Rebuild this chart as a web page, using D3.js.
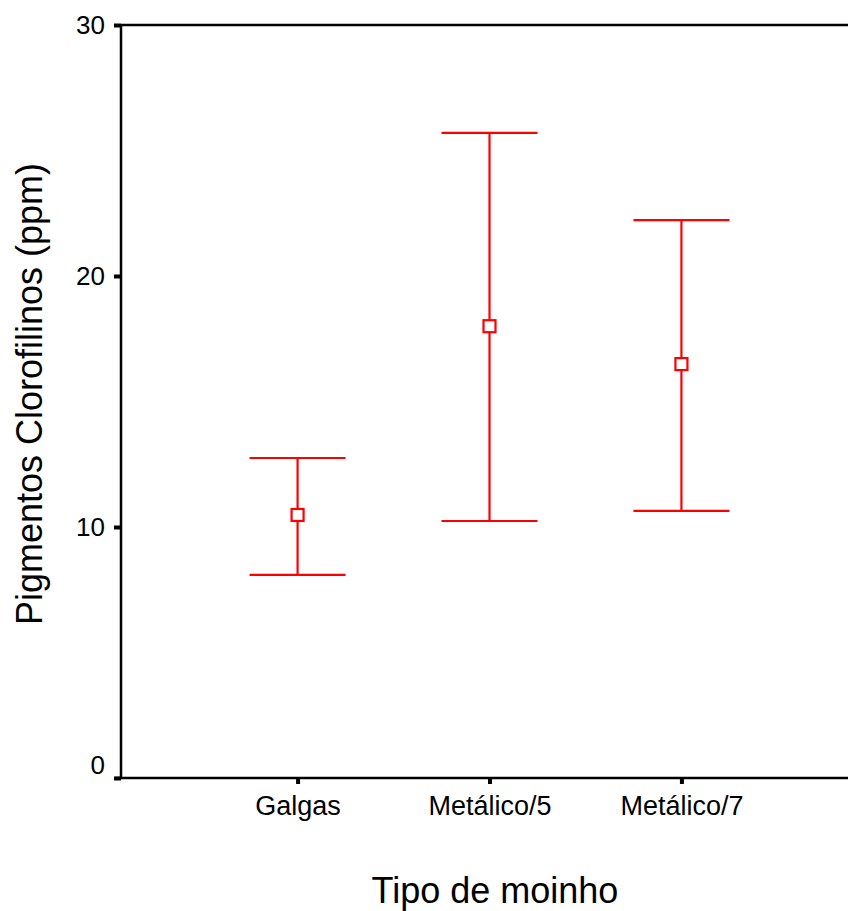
<!DOCTYPE html>
<html>
<head>
<meta charset="utf-8">
<script src="https://cdn.jsdelivr.net/npm/d3@7"></script>
<style>
  body { margin: 0; background: #fff; }
  text { font-family: "Liberation Sans", Arial, sans-serif; }
</style>
</head>
<body>
<svg width="848" height="911"></svg>
<script>
// error bar chart: mean and interval per mill type
var categories = ["Galgas", "Metálico/5", "Metálico/7"];
var means = [10.48, 18.0, 16.49];
var lower = [8.09, 10.24, 10.64];
var upper = [12.75, 25.7, 22.23];
var yTicks = [0, 10, 20, 30];

var svg = d3.select("svg");
var width = +svg.attr("width");
var plotLeft = 121, plotTop = 25, plotBottom = 778;

var x = d3.scalePoint()
    .domain(categories)
    .range([plotLeft, 858])
    .padding(0.92);

var y = d3.scaleLinear()
    .domain([0, 30])
    .range([plotBottom, plotTop]);

var rows = categories.map(function(c, i) {
    return { cat: c, mean: means[i], lo: lower[i], hi: upper[i] };
});

// top frame line
svg.append("line")
    .attr("x1", plotLeft).attr("x2", width)
    .attr("y1", y(30)).attr("y2", y(30))
    .attr("stroke", "#000").attr("stroke-width", 2.5);

// y axis
var gy = svg.append("g")
    .attr("transform", "translate(" + plotLeft + ",0)")
    .call(d3.axisLeft(y).tickValues(yTicks).tickSizeInner(7).tickSizeOuter(0).tickPadding(9));
gy.select(".domain").attr("stroke", "#000").attr("stroke-width", 2.5)
    .attr("d", "M0," + (plotBottom + 1) + "V" + (plotTop - 1));
gy.selectAll(".tick line").attr("stroke", "#000").attr("stroke-width", 4);
gy.selectAll(".tick text").attr("font-size", 26).attr("fill", "#000")
    .attr("font-family", "Liberation Sans, Arial, sans-serif")
    .attr("y", function(d) { return d === 0 ? -13 : 0; });

// x axis
var gx = svg.append("g")
    .attr("transform", "translate(0," + plotBottom + ")")
    .call(d3.axisBottom(x).tickSizeInner(6).tickSizeOuter(0).tickPadding(12));
gx.select(".domain").attr("stroke", "#000").attr("stroke-width", 2.5)
    .attr("d", "M" + (plotLeft - 6) + ",0H" + width);
gx.selectAll(".tick line").attr("stroke", "#000").attr("stroke-width", 4);
gx.selectAll(".tick text").attr("font-size", 27).attr("fill", "#000")
    .attr("font-family", "Liberation Sans, Arial, sans-serif");

// error bars
var capHalf = 48, sq = 12;
var bars = svg.append("g").attr("class", "bars")
    .selectAll("g").data(rows).enter().append("g")
    .attr("stroke", "#ff0000").attr("stroke-width", 2.2).attr("fill", "none");

bars.append("line")
    .attr("x1", function(d) { return x(d.cat); })
    .attr("x2", function(d) { return x(d.cat); })
    .attr("y1", function(d) { return y(d.hi); })
    .attr("y2", function(d) { return y(d.lo); });
bars.append("line")
    .attr("x1", function(d) { return x(d.cat) - capHalf; })
    .attr("x2", function(d) { return x(d.cat) + capHalf; })
    .attr("y1", function(d) { return y(d.hi); })
    .attr("y2", function(d) { return y(d.hi); });
bars.append("line")
    .attr("x1", function(d) { return x(d.cat) - capHalf; })
    .attr("x2", function(d) { return x(d.cat) + capHalf; })
    .attr("y1", function(d) { return y(d.lo); })
    .attr("y2", function(d) { return y(d.lo); });
bars.append("rect")
    .attr("x", function(d) { return x(d.cat) - sq / 2; })
    .attr("y", function(d) { return y(d.mean) - sq / 2; })
    .attr("width", sq).attr("height", sq)
    .attr("fill", "#fff");

// axis titles
svg.append("text")
    .attr("x", 495).attr("y", 903)
    .attr("text-anchor", "middle")
    .attr("font-size", 36)
    .text("Tipo de moinho");

svg.append("text")
    .attr("transform", "translate(42,394) rotate(-90)")
    .attr("text-anchor", "middle")
    .attr("font-size", 36)
    .text("Pigmentos Clorofilinos (ppm)");
</script>
</body>
</html>
